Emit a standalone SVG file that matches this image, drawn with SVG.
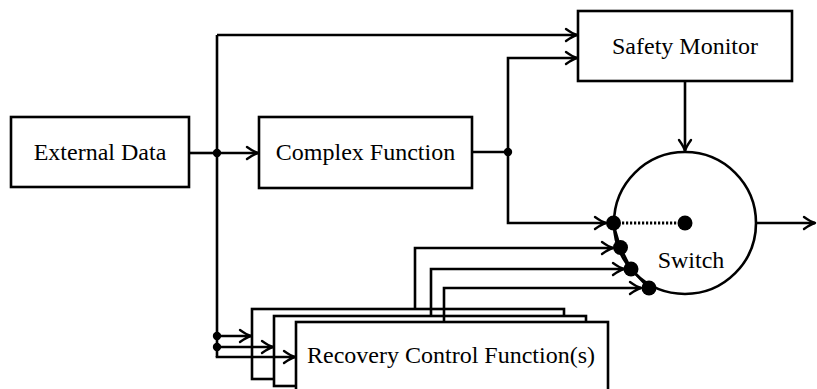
<svg xmlns="http://www.w3.org/2000/svg" width="817" height="389" viewBox="0 0 817 389">
  <style>
    .box { fill: #fff; stroke: #000; stroke-width: 2.6; }
    .wire { fill: none; stroke: #000; stroke-width: 2.6; stroke-linejoin: miter; }
    .arrow { marker-end: url(#head); }
    .dot { fill: #000; }
    .label { font-family: "Liberation Serif", "Times New Roman", serif; font-size: 24px; fill: #000; text-anchor: middle; }
  </style>
  <defs>
    <marker id="head" markerUnits="userSpaceOnUse" viewBox="-12 -7 14 14" refX="0" refY="0" markerWidth="14" markerHeight="14" orient="auto" overflow="visible">
      <path d="M-11,-6 Q-4,-1 0,0 Q-4,1 -11,6" fill="none" stroke="#000" stroke-width="2.4" stroke-linecap="round" stroke-linejoin="round"/>
    </marker>
  </defs>
  <rect width="817" height="389" fill="#fff"/>

  <!-- Nodes -->
  <g id="external-data">
    <rect class="box" x="11" y="117" width="178" height="70"/>
    <text class="label" x="100" y="160">External Data</text>
  </g>
  <g id="complex-function">
    <rect class="box" x="259" y="117" width="213" height="71"/>
    <text class="label" x="365.5" y="160">Complex Function</text>
  </g>
  <g id="safety-monitor">
    <rect class="box" x="578" y="11" width="214" height="70"/>
    <text class="label" x="685" y="54">Safety Monitor</text>
  </g>
  <g id="recovery-functions">
    <rect class="box" x="252" y="309" width="312" height="70"/>
    <rect class="box" x="274" y="316" width="312" height="70"/>
    <rect class="box" x="296" y="322" width="312" height="72"/>
    <text class="label" x="451" y="363">Recovery Control Function(s)</text>
  </g>
  <g id="switch">
    <circle cx="685" cy="223" r="71" fill="#fff" stroke="#000" stroke-width="2.6"/>
    <line x1="622" y1="223" x2="678" y2="223" stroke="#000" stroke-width="3" stroke-dasharray="2.2 1.8"/>
    <polyline class="wire" points="613,223 620,247 631,269 649,288"/>
    <circle class="dot" cx="685" cy="223" r="7.5"/>
    <circle class="dot" cx="613.5" cy="223" r="7.5"/>
    <circle class="dot" cx="620.5" cy="247.5" r="7.5"/>
    <circle class="dot" cx="631" cy="269" r="7.5"/>
    <circle class="dot" cx="649" cy="288" r="7.5"/>
    <text class="label" x="691" y="268">Switch</text>
  </g>

  <!-- Connectors -->
  <g id="connectors">
    <!-- external data bus -->
    <line class="wire" x1="189" y1="153" x2="217" y2="153"/>
    <polyline class="wire" points="217,35 217,357"/>
    <line class="wire arrow" x1="217" y1="153" x2="258" y2="153"/>
    <line class="wire arrow" x1="217" y1="35" x2="577" y2="35"/>
    <line class="wire arrow" x1="217" y1="336" x2="251" y2="336"/>
    <line class="wire arrow" x1="217" y1="347" x2="273" y2="347"/>
    <polyline class="wire arrow" points="217,356 217,357 295,357"/>
    <circle class="dot" cx="217" cy="153" r="4.2"/>
    <circle class="dot" cx="217" cy="336" r="4.2"/>
    <circle class="dot" cx="217" cy="347" r="4.2"/>

    <!-- complex function output -->
    <line class="wire" x1="472" y1="152" x2="508" y2="152"/>
    <polyline class="wire arrow" points="508,152 508,58 577,58"/>
    <polyline class="wire arrow" points="508,152 508,223 606,223"/>
    <circle class="dot" cx="508" cy="152" r="4.2"/>

    <!-- monitor to switch -->
    <line class="wire arrow" x1="685" y1="81" x2="685" y2="151"/>

    <!-- recovery outputs -->
    <polyline class="wire arrow" points="415,309 415,248 613,248"/>
    <polyline class="wire arrow" points="431,316 431,269 624,269"/>
    <polyline class="wire arrow" points="444,322 444,288 641,288"/>

    <!-- switch output -->
    <line class="wire arrow" x1="756" y1="223" x2="815" y2="223"/>
  </g>
</svg>
